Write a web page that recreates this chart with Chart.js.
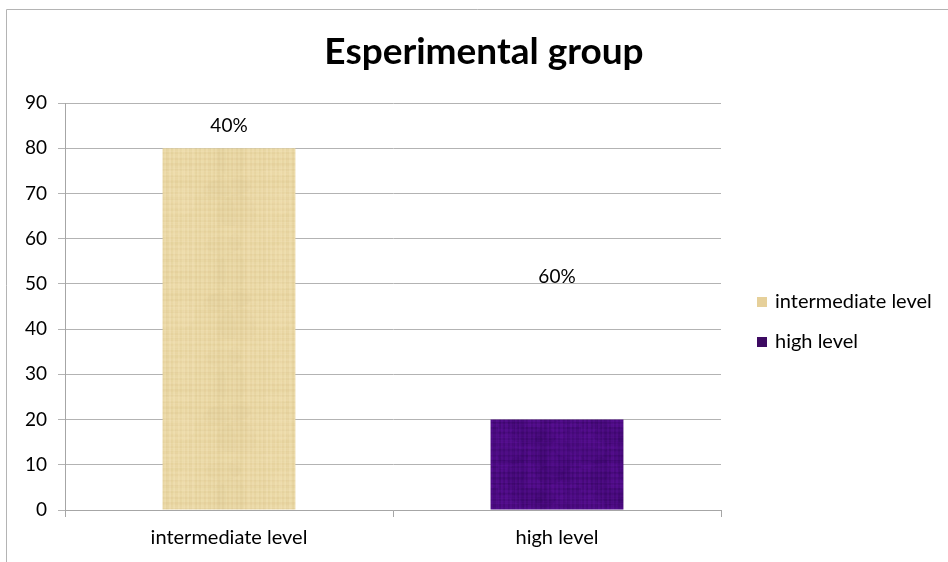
<!DOCTYPE html>
<html>
<head>
<meta charset="utf-8">
<script src="https://cdn.jsdelivr.net/npm/chart.js@4/dist/chart.umd.min.js"></script>
<style>
  html, body { margin: 0; padding: 0; background: #ffffff; }
  canvas { display: block; }
</style>
</head>
<body>
<canvas id="chart" width="948" height="562"></canvas>
<script>
// Chart content
const chartTitle = 'Esperimental group';
const categories = ['intermediate level', 'high level'];
const counts = [80, 20];
const shareLabels = ['40%', '60%'];
const shareLabelValues = [85, 51.5];   // y-axis value at which each share label sits
const yMin = 0;
const yMax = 90;
const yStep = 10;

const FONT = 'Lato, "Open Sans", sans-serif';

// Woven, paper-like fills for the bars
function makeTexture(base, dark, light, w, h, strength, mottle) {
  const c = document.createElement('canvas');
  c.width = w; c.height = h;
  const g = c.getContext('2d');
  g.fillStyle = base;
  g.fillRect(0, 0, w, h);
  // vertical fibres
  for (let i = 0; i < w; i++) {
    const a = strength * (0.4 + 0.6 * Math.abs(Math.sin(i * 2.3) * Math.sin(i * 0.71)));
    g.globalAlpha = a;
    g.fillStyle = (Math.sin(i * 1.37) > 0) ? dark : light;
    g.fillRect(i, 0, 1, h);
  }
  // horizontal fibres
  for (let j = 0; j < h; j++) {
    const a = strength * 0.8 * (0.3 + 0.7 * Math.abs(Math.cos(j * 1.9) * Math.sin(j * 0.53)));
    g.globalAlpha = a;
    g.fillStyle = (Math.cos(j * 1.11) > 0.2) ? dark : light;
    g.fillRect(0, j, w, 1);
  }
  // soft mottling
  for (let k = 0; k < 18; k++) {
    const x = (k * 47) % w, y = (k * 71) % h;
    g.globalAlpha = mottle;
    g.fillStyle = (k % 2) ? dark : light;
    g.beginPath();
    g.ellipse(x, y, 6 + (k % 5) * 4, 4 + (k % 4) * 5, 0, 0, Math.PI * 2);
    g.fill();
  }
  g.globalAlpha = 1;
  return g.createPattern(c, 'repeat');
}

const ctx = document.getElementById('chart').getContext('2d');
const fills = [
  makeTexture('#ebd8a4', '#d2bb84', '#f7edcc', 97, 113, 0.2, 0.06),
  makeTexture('#4c0b82', '#30055a', '#6214a0', 83, 61, 0.33, 0.14)
];
const legendColors = ['#e6d09a', '#3d0a62'];

// Outer frame, title, share labels and legend
const decorations = {
  id: 'decorations',
  beforeDraw(chart) {
    const c = chart.ctx;
    c.save();
    c.strokeStyle = '#b4b4b4';
    c.lineWidth = 1;
    c.beginPath();
    c.moveTo(6.5, 562);
    c.lineTo(6.5, 9.5);
    c.lineTo(948, 9.5);
    c.stroke();
    c.restore();
  },
  afterDraw(chart) {
    const c = chart.ctx;
    const y = chart.scales.y;
    const meta = chart.getDatasetMeta(0);
    c.save();
    c.fillStyle = '#000000';
    c.textAlign = 'center';
    c.textBaseline = 'middle';
    c.font = 'bold 37px ' + FONT;
    c.fillText(chartTitle, 484, 52);

    c.font = '19px ' + FONT;
    shareLabels.forEach((t, i) => {
      c.fillText(t, meta.data[i].x, y.getPixelForValue(shareLabelValues[i]));
    });

    c.font = '20px ' + FONT;
    c.textAlign = 'left';
    categories.forEach((name, i) => {
      const cy = 302 + i * 40;
      c.fillStyle = legendColors[i];
      c.fillRect(757, cy - 5, 10, 10);
      c.fillStyle = '#000000';
      c.fillText(name, 775, cy);
    });
    c.restore();
  }
};

new Chart(ctx, {
  type: 'bar',
  data: {
    labels: categories,
    datasets: [{
      label: chartTitle,
      data: counts,
      backgroundColor: fills,
      borderWidth: 0,
      categoryPercentage: 1.0,
      barPercentage: 0.405
    }]
  },
  options: {
    responsive: false,
    animation: false,
    devicePixelRatio: 1,
    layout: { padding: { top: 103, right: 227, left: 0, bottom: 0 } },
    plugins: {
      legend: { display: false },
      title: { display: false },
      tooltip: { enabled: false }
    },
    scales: {
      x: {
        grid: {
          drawOnChartArea: false,
          drawTicks: true,
          tickLength: 7,
          color: '#a6a6a6'
        },
        border: { color: '#a6a6a6' },
        ticks: {
          color: '#000000',
          font: { family: FONT, size: 20 },
          padding: 9
        },
        afterFit(scale) { scale.height = 52; }
      },
      y: {
        min: yMin,
        max: yMax,
        ticks: {
          stepSize: yStep,
          color: '#000000',
          font: { family: FONT, size: 19 },
          padding: 11
        },
        grid: {
          color: '#b3b3b3',
          tickLength: 7
        },
        border: { color: '#a6a6a6' },
        afterFit(scale) { scale.width = 65; }
      }
    }
  },
  plugins: [decorations]
});
</script>
</body>
</html>
